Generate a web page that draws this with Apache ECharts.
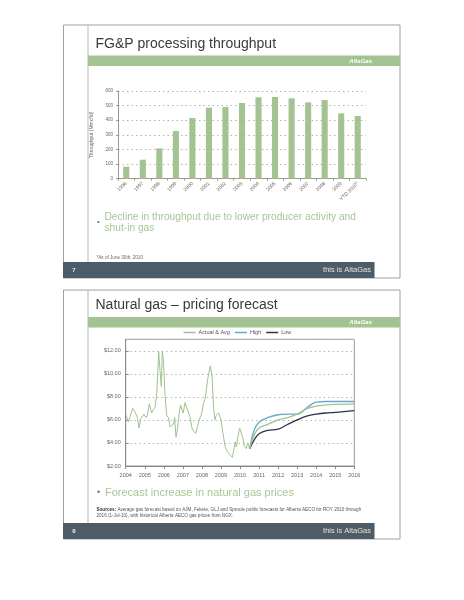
<!DOCTYPE html>
<html><head><meta charset="utf-8">
<script src="https://cdn.jsdelivr.net/npm/echarts@6/dist/echarts.min.js"></script>
<style>html,body{margin:0;padding:0;background:#fff}#c{width:464px;height:600px}</style>
</head><body><div id="c"></div>
<script>
// ---- Slide 1: FG&P processing throughput ----
const barCategories = ['1996','1997','1998','1999','2000','2001','2002','2003','2004','2005','2006','2007','2008','2009','YTD 2010*'];
const barValues = [82,130,208,326,415,486,490,518,557,559,550,522,538,447,429];

// ---- Slide 2: Natural gas pricing forecast ----
const histYears = [2004.00,2004.14,2004.23,2004.37,2004.49,2004.61,2004.70,2004.79,2004.89,2004.96,
  2005.07,2005.14,2005.24,2005.36,2005.45,2005.54,2005.63,2005.73,2005.80,2005.87,2005.92,2005.98,
  2006.06,2006.15,2006.24,2006.33,2006.43,2006.50,2006.57,2006.64,2006.71,2006.80,2006.88,2006.95,
  2007.02,2007.11,2007.20,2007.29,2007.37,2007.48,2007.58,2007.67,2007.76,2007.86,2007.98,2008.08,
  2008.18,2008.30,2008.44,2008.53,2008.61,2008.68,2008.75,2008.88,2009.00,2009.11,2009.23,2009.35,
  2009.49,2009.60,2009.67,2009.75,2009.81,2009.89,2009.98,2010.07,2010.14,2010.23,2010.33,2010.40,
  2010.46,2010.51];
const histPrice = [6.5,5.85,6.0,7.0,6.7,6.2,5.3,6.1,6.1,6.5,
  6.2,6.4,7.4,6.6,6.9,7.1,8.3,11.95,10.3,8.9,11.95,11.2,
  8.3,6.4,6.2,5.4,5.3,5.6,6.2,4.5,5.1,6.5,7.3,6.9,
  6.6,7.5,7.1,7.0,6.3,5.3,5.0,4.8,5.4,6.0,6.5,7.4,
  7.9,9.5,10.7,9.8,7.2,6.0,6.4,6.6,6.0,4.8,3.6,3.2,
  2.95,2.75,3.4,4.1,3.65,4.5,5.3,5.3,4.5,3.7,3.5,4.0,
  3.7,3.5];
const fcYears = [2010.51,2010.74,2011.0,2011.44,2012.0,2012.49,2013.0,2013.54,2014.0,2014.5,2015.0,2016.0];
const fcAvg  = [3.5,4.7,5.3,5.6,6.0,6.2,6.5,7.0,7.2,7.3,7.35,7.4];
const fcHigh = [3.5,5.1,5.8,6.2,6.45,6.5,6.5,7.1,7.55,7.6,7.6,7.6];
const fcLow  = [3.5,4.25,4.8,5.1,5.2,5.6,6.0,6.35,6.5,6.6,6.65,6.8];
const priceTickFmt = v => '$' + v.toFixed(2);

const pair = (xs, ys) => xs.map((x, i) => [x, ys[i]]);

const FONT = "'Liberation Sans', Arial, sans-serif";
const GREEN = '#a3c392', FOOT = '#4d5c66', BORDER = '#a0a0a0';

function slideGraphics(top, bottom, bandTop, num) {
  const footTop = bottom - 16;
  return [
    {type:'rect', shape:{x:63.5,y:top,width:336.5,height:bottom-top}, style:{fill:'none',stroke:BORDER,lineWidth:1}, z:1},
    {type:'line', shape:{x1:88,y1:top,x2:88,y2:footTop}, style:{stroke:'#b5b5b5',lineWidth:1}, z:1},
    {type:'rect', shape:{x:88,y:bandTop,width:312,height:10.5}, style:{fill:GREEN}, z:2},
    {type:'text', style:{x:372,y:bandTop+5.5,text:'AltaGas',fill:'#fff',font:'italic bold 6px '+FONT,textAlign:'right',textVerticalAlign:'middle'}, z:3},
    {type:'rect', shape:{x:63,y:footTop,width:311.5,height:16}, style:{fill:FOOT}, z:2},
    {type:'text', style:{x:74,y:footTop+8,text:String(num),fill:'#e8e8e8',font:'bold 6px '+FONT,textAlign:'center',textVerticalAlign:'middle'}, z:3},
    {type:'text', style:{x:371,y:footTop+8,text:'this is AltaGas',fill:'#e6e3d6',font:'7.5px '+FONT,textAlign:'right',textVerticalAlign:'middle'}, z:3}
  ];
}

const chart = echarts.init(document.getElementById('c'), null, {renderer:'canvas'});
const option = {
  animation:false,
  backgroundColor:'#fff',
  textStyle:{fontFamily:FONT},
  graphic:[].concat(
    slideGraphics(25, 278, 55.5, 7),
    slideGraphics(290, 539, 317, 8),
    [
      {type:'text', style:{x:95.5,y:44,text:'FG&P processing throughput',fill:'#3a3a3a',font:'14px '+FONT,textVerticalAlign:'middle'}, z:3},
      {type:'text', style:{x:95.5,y:305.5,text:'Natural gas – pricing forecast',fill:'#3a3a3a',font:'14px '+FONT,textVerticalAlign:'middle'}, z:3},
      {type:'text', style:{x:97,y:222,text:'•',fill:'#777',font:'8px '+FONT,textVerticalAlign:'middle'}, z:3},
      {type:'text', style:{x:104.5,y:222.5,text:'Decline in throughput due to lower producer activity and\nshut-in gas',fill:'#a6c797',font:'10.2px '+FONT,textVerticalAlign:'middle',lineHeight:11.5}, z:3},
      {type:'text', style:{x:96.5,y:258,text:'*As of June 30th, 2010',fill:'#666',font:'4.6px '+FONT,textVerticalAlign:'middle'}, z:3},
      {type:'text', style:{x:97,y:492.5,text:'•',fill:'#777',font:'9px '+FONT,textVerticalAlign:'middle'}, z:3},
      {type:'text', style:{x:105,y:493,text:'Forecast increase in natural gas prices',fill:'#a6c797',font:'11px '+FONT,textVerticalAlign:'middle'}, z:3},
      {type:'text', style:{x:96.5,y:513,text:'{b|Sources:} Average gas forecast based on AJM, Fekete, GLJ and Sproule public forecasts for Alberta AECO for ROY 2010 through\n2016 (1-Jul-10), with historical Alberta AECO gas prices from NGX.',
        fill:'#555',font:'4.6px '+FONT,textVerticalAlign:'middle',lineHeight:6.3,rich:{b:{fontWeight:'bold',fontSize:4.6,fill:'#333'}}}, z:3}
    ]
  ),
  legend:{
    top:329.5, left:241.5-58,
    data:['Actual & Avg','High','Low'],
    icon:'rect', itemWidth:12, itemHeight:1.5, itemGap:5, padding:0,
    textStyle:{fontSize:5.5,color:'#555',padding:[0,0,0,-2]}
  },
  grid:[
    {left:118, top:91, width:248, height:87.7},
    {left:125.7, top:339.3, width:228.6, height:126.7, show:true, borderColor:'#999', borderWidth:1}
  ],
  xAxis:[
    {type:'category', gridIndex:0, data:barCategories,
      axisLine:{lineStyle:{color:'#999'}},
      axisTick:{show:true,alignWithLabel:false,length:2,lineStyle:{color:'#999'}},
      axisLabel:{rotate:45,fontSize:5,color:'#666',margin:4}},
    {type:'value', gridIndex:1, min:2004, max:2016, interval:1,
      axisLine:{lineStyle:{color:'#888'}},
      axisTick:{show:true,length:3,lineStyle:{color:'#888'}},
      splitLine:{show:false},
      axisLabel:{fontSize:5.5,color:'#666',margin:6,formatter:v=>String(v)}}
  ],
  yAxis:[
    {type:'value', gridIndex:0, min:0, max:600, interval:100,
      name:'Throughput (Mmcf/d)', nameLocation:'middle', nameGap:14, nameRotate:90,
      nameTextStyle:{fontSize:5,color:'#666'},
      axisLine:{show:true,lineStyle:{color:'#999'}},
      axisTick:{show:true,length:2,lineStyle:{color:'#999'}},
      splitLine:{lineStyle:{type:[1.5,3],color:'#b5b5b5'}},
      axisLabel:{fontSize:4.5,color:'#666',margin:5}},
    {type:'value', gridIndex:1, min:2, max:13, interval:2,
      axisLine:{show:true,lineStyle:{color:'#888'}},
      axisTick:{show:true,length:3,inside:true,lineStyle:{color:'#888'}},
      splitLine:{lineStyle:{type:[1.5,3],color:'#b5b5b5'}},
      axisLabel:{fontSize:5.5,color:'#666',margin:5,showMaxLabel:false,formatter:priceTickFmt}}
  ],
  series:[
    {type:'bar', xAxisIndex:0, yAxisIndex:0, data:barValues, barWidth:'37%', itemStyle:{color:GREEN}, silent:true},
    {name:'Actual & Avg', type:'line', xAxisIndex:1, yAxisIndex:1, data:pair(histYears,histPrice),
      showSymbol:false, lineStyle:{width:1,color:'#9fc28f'}, itemStyle:{color:'#9fc28f'}, z:3},
    {name:'Actual & Avg', type:'line', xAxisIndex:1, yAxisIndex:1, data:pair(fcYears,fcAvg), smooth:0.4,
      showSymbol:false, lineStyle:{width:1.3,color:'#9fc28f'}, itemStyle:{color:'#9fc28f'}, z:3},
    {name:'High', type:'line', xAxisIndex:1, yAxisIndex:1, data:pair(fcYears,fcHigh), smooth:0.4,
      showSymbol:false, lineStyle:{width:1.3,color:'#6aa8c6'}, itemStyle:{color:'#6aa8c6'}, z:2},
    {name:'Low', type:'line', xAxisIndex:1, yAxisIndex:1, data:pair(fcYears,fcLow), smooth:0.4,
      showSymbol:false, lineStyle:{width:1.3,color:'#2c3546'}, itemStyle:{color:'#2c3546'}, z:2}
  ]
};
chart.setOption(option);
</script></body></html>
